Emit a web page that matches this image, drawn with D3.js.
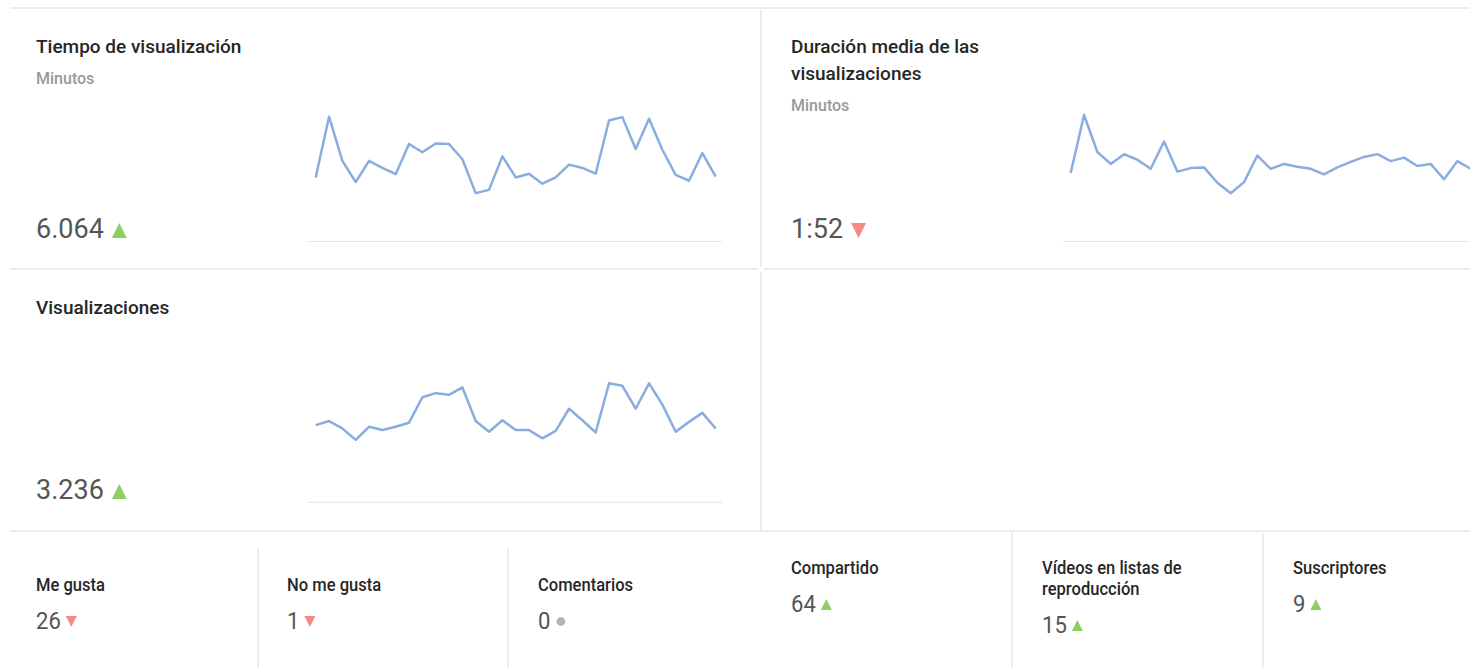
<!DOCTYPE html>
<html>
<head>
<meta charset="utf-8">
<script src="https://cdn.jsdelivr.net/npm/d3@7"></script>
<style>
  body { margin: 0; background: #fff; overflow: hidden; }
  svg { display: block; font-family: Roboto, "Noto Sans", sans-serif; }
</style>
</head>
<body>
<svg id="viz"></svg>
<script>
// daily values (31 days)
var tiempoMin = [155, 302, 195, 144, 195, 178, 163, 236, 216, 237, 236, 199, 117, 125, 206, 155,
                 164, 140, 155, 186, 178, 164, 293, 301, 224, 297, 222, 161, 147, 214, 157];
var duracionSeg = [98, 181, 128, 111, 125, 117, 104, 143, 100, 105, 106, 84, 69, 85, 123, 104,
                   111, 107, 104, 96, 106, 114, 121, 125, 115, 120, 108, 111, 89, 115, 104];
var visualizaciones = [94, 99, 90, 76, 92, 88, 92, 97, 128, 133, 131, 140, 99, 86, 100, 88,
                       88, 78, 87, 114, 100, 85, 145, 142, 114, 145, 119, 86, 98, 109, 90];

var totals = ["6.064", "1:52", "3.236"];
var trends = ["up", "down", "up"];

var smallLabels = ["Me gusta", "No me gusta", "Comentarios", "Compartido", "Vídeos en listas de|reproducción", "Suscriptores"];
var smallValues = ["26", "1", "0", "64", "15", "9"];
var smallTrends = ["down", "down", "flat", "up", "up", "up"];

var svg = d3.select("#viz");
var W = 1470, H = 668;
svg.attr("width", W).attr("height", H);

var colors = {
    line: "#89ade0",
    grid: "#e6e6e6",
    title: "#262626",
    sub: "#999",
    value: "#555",
    up: "#8ccf62",
    down: "#f48a85",
    flat: "#b5b5b5"
};

//Dividers
var dividers = [
    [10, 8, W, 8],
    [761, 10, 761, 266],
    [761, 272, 761, 530],
    [10, 269, 758, 269],
    [764, 269, W, 269],
    [10, 531, W, 531],
    [258, 548, 258, H],
    [508, 548, 508, H],
    [1012, 533, 1012, H],
    [1263, 533, 1263, H]
];
svg.append("g").selectAll("line")
    .data(dividers)
    .enter()
    .append("line")
    .attr("x1", d => d[0]).attr("y1", d => d[1])
    .attr("x2", d => d[2]).attr("y2", d => d[3])
    .attr("stroke", colors.grid)
    .attr("stroke-width", 1.5);

function triangle(g, x, y, size, dir) {
    if (dir === "flat") {
        g.append("circle").attr("cx", x + size / 2).attr("cy", y - size / 2)
            .attr("r", size * 0.4).attr("fill", colors.flat);
        return;
    }
    var pts = dir === "up"
        ? [[x, y], [x + size, y], [x + size / 2, y - size]]
        : [[x, y - size], [x + size, y - size], [x + size / 2, y]];
    g.append("path").attr("d", d3.line()(pts) + "Z").attr("fill", dir === "up" ? colors.up : colors.down);
}

//Big metric panels
var panels = [
    {title: ["Tiempo de visualización"], sub: "Minutos", data: tiempoMin, x: 36, y: 0,
     lineX: [315.7, 715.7], top: 116.7, base: 241.5, axis: [308, 722]},
    {title: ["Duración media de las", "visualizaciones"], sub: "Minutos", data: duracionSeg, x: 791, y: 0,
     lineX: [1070.7, 1470.7], top: 115, base: 241.5, axis: [1063, W]},
    {title: ["Visualizaciones"], sub: null, data: visualizaciones, x: 36, y: 261,
     lineX: [315.7, 715.7], top: 383.3, base: 502.3, axis: [308, 722]}
];

panels.forEach((p, i) => {
    var g = svg.append("g");
    p.title.forEach((t, j) => {
        g.append("text").attr("x", p.x).attr("y", p.y + 53 + j * 27)
            .attr("font-size", 19).attr("font-weight", 500).attr("fill", colors.title).text(t);
    });
    if (p.sub) {
        g.append("text").attr("x", p.x).attr("y", p.y + 84 + (p.title.length - 1) * 27)
            .attr("font-size", 16).attr("font-weight", 500).attr("fill", colors.sub).text(p.sub);
    }
    var num = g.append("text").attr("x", p.x).attr("y", p.y + 238)
        .attr("font-size", 27).attr("fill", colors.value).text(totals[i]);
    var nw = num.node().getComputedTextLength();
    triangle(g, p.x + nw + 8, p.y + 238, 15, trends[i]);

    var xScale = d3.scaleLinear().domain([0, p.data.length - 1]).range(p.lineX);
    var yScale = d3.scaleLinear().domain([0, d3.max(p.data)]).range([p.base, p.top]);

    g.append("line").attr("x1", p.axis[0]).attr("x2", p.axis[1])
        .attr("y1", p.base).attr("y2", p.base)
        .attr("stroke", colors.grid).attr("stroke-width", 1.2);

    g.append("path")
        .datum(p.data)
        .attr("fill", "none")
        .attr("stroke", colors.line)
        .attr("stroke-width", 2.5)
        .attr("stroke-linejoin", "round")
        .attr("d", d3.line().x((d, k) => xScale(k)).y(d => yScale(d)));
});

//Small metrics (narrow type, like the original)
var sx = 0.92;
var smallPos = [[36, 591], [287, 591], [538, 591], [791, 574], [1042, 574], [1293, 574]];
smallLabels.forEach((lab, i) => {
    var g = svg.append("g").attr("transform", `translate(${smallPos[i][0]},${smallPos[i][1]})`);
    var lines = lab.split("|");
    var inner = g.append("g").attr("transform", `scale(${sx},1)`);
    lines.forEach((t, j) => {
        inner.append("text").attr("y", j * 21).attr("font-size", 18).attr("font-weight", 500)
            .attr("fill", colors.title).text(t);
    });
    var vy = 38 + (lines.length - 1) * 21;
    var num = inner.append("text").attr("y", vy).attr("font-size", 24).attr("fill", colors.value).text(smallValues[i]);
    var nw = num.node().getComputedTextLength() * sx;
    triangle(g, nw + 5, vy - 2, 11, smallTrends[i]);
});
</script>
</body>
</html>
